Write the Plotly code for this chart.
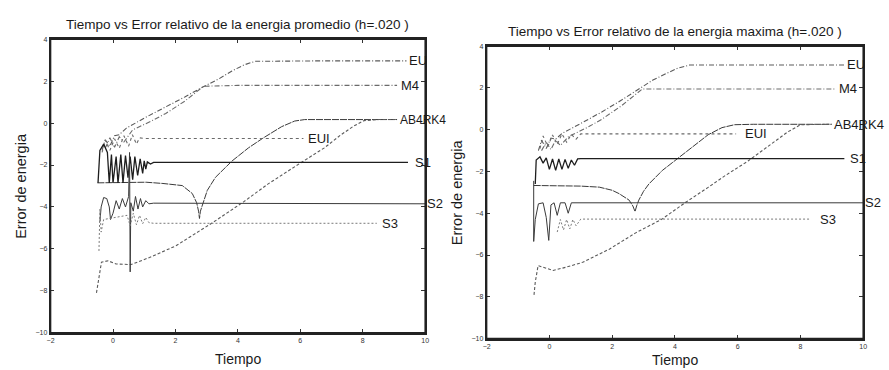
import plotly.graph_objects as go

# ---------------- Panel 1: error relativo de la energia promedio ----------------
prom_eu_t = [-0.35, -0.25, -0.1, 0.05, 0.2, 0.42, 1.0, 1.69, 2.3, 2.86, 3.4, 3.81, 4.2, 4.55, 5.5, 6.5, 7.5, 8.5, 9.4]
prom_eu_e = [-1.3, -0.8, -1.1, -0.6, -0.55, -0.25, 0.24, 0.77, 1.25, 1.71, 2.12, 2.49, 2.78, 2.95, 2.97, 2.97, 2.97, 2.97, 2.97]

prom_m4_t = [-0.25, -0.1, 0.05, 0.2, 0.35, 0.63, 1.2, 1.69, 2.3, 2.9, 4.0, 5.0, 6.0, 7.0, 8.0, 9.1]
prom_m4_e = [-1.2, -0.7, -1.15, -0.65, -0.9, -0.32, 0.08, 0.46, 1.05, 1.76, 1.8, 1.8, 1.8, 1.8, 1.8, 1.8]

prom_ab4_t = [-0.5, 0.0, 0.5, 1.06, 1.6, 2.22, 2.54, 2.68, 2.74, 2.77, 2.8, 2.9, 3.02, 3.28, 3.81, 4.34, 4.81, 5.4, 5.82, 6.14, 7.0, 8.0, 9.1]
prom_ab4_e = [-2.85, -2.85, -2.84, -2.82, -2.88, -2.98, -3.36, -3.8, -4.2, -4.55, -4.2, -3.7, -3.21, -2.59, -1.81, -1.18, -0.71, -0.17, 0.1, 0.17, 0.17, 0.17, 0.17]

prom_rk4_t = [-0.53, -0.45, -0.37, -0.16, 0.1, 0.58, 1.17, 2.01, 2.5, 3.17, 4.18, 4.97, 6.03, 6.77, 7.3, 7.7, 8.04, 8.5, 9.1]
prom_rk4_e = [-8.1, -7.4, -6.64, -6.57, -6.72, -6.75, -6.41, -5.86, -5.4, -4.77, -3.76, -2.9, -1.88, -1.18, -0.56, -0.15, 0.12, 0.17, 0.17]

prom_eui_t = [-0.35, -0.25, -0.1, 0.05, 0.2, 0.35, 0.5, 0.62, 0.75, 0.85, 1.0, 6.1]
prom_eui_e = [-1.4, -0.8, -1.3, -0.75, -1.2, -0.6, -1.1, -0.55, -1.0, -0.7, -0.73, -0.73]

prom_s1_t = [-0.48, -0.42, -0.3, -0.18, -0.12, -0.05, 0.0, 0.1, 0.16, 0.25, 0.32, 0.4, 0.48, 0.55, 0.63, 0.7,
             0.79, 0.87, 0.95, 1.0, 1.05, 1.1, 1.2, 1.3, 9.45]
prom_s1_e = [-2.85, -1.3, -1.0, -1.4, -2.85, -1.5, -2.85, -1.6, -2.85, -1.5, -2.85, -1.55, -2.6, -1.6, -2.7, -1.6,
             -2.5, -1.7, -2.4, -1.8, -2.2, -1.85, -1.95, -1.87, -1.87]

prom_s2_t = [-0.42, -0.38, -0.3, -0.2, -0.12, -0.08, 0.0, 0.1, 0.2, 0.3, 0.4, 0.5, 0.53, 0.55, 0.57, 0.65,
             0.72, 0.8, 0.88, 0.95, 1.05, 1.15, 1.3, 10.0]
prom_s2_e = [-4.7, -4.0, -3.55, -3.6, -4.0, -4.6, -4.3, -3.7, -4.1, -3.6, -4.0, -3.5, -1.4, -7.1, -3.8, -4.2,
             -3.5, -4.1, -3.6, -4.0, -3.7, -3.85, -3.82, -3.85]

prom_s3_t = [-0.45, -0.42, -0.38, -0.3, 0.45, 0.55, 0.65, 0.75, 0.85, 0.95, 1.05, 1.15, 1.3, 8.45]
prom_s3_e = [-6.1, -4.1, -5.2, -4.6, -4.4, -4.9, -4.3, -4.85, -4.4, -4.8, -4.5, -4.75, -4.78, -4.78]

# ---------------- Panel 2: error relativo de la energia maxima ----------------
max_eu_t = [-0.35, -0.25, -0.1, 0.05, 0.2, 0.41, 1.0, 1.67, 2.3, 2.83, 3.3, 3.78, 4.1, 4.47, 5.5, 6.5, 7.5, 8.5, 9.4]
max_eu_e = [-1.0, -0.5, -0.9, -0.4, -0.45, -0.17, 0.3, 0.85, 1.42, 1.95, 2.38, 2.73, 2.95, 3.1, 3.1, 3.1, 3.1, 3.1, 3.1]

max_m4_t = [-0.25, -0.1, 0.05, 0.2, 0.35, 0.62, 1.2, 1.67, 2.3, 2.96, 4.0, 5.0, 6.0, 7.0, 8.0, 9.1]
max_m4_e = [-1.0, -0.6, -0.95, -0.5, -0.75, -0.32, 0.1, 0.5, 1.15, 1.95, 1.95, 1.95, 1.95, 1.95, 1.95, 1.95]

max_ab4_t = [-0.5, 0.0, 0.5, 1.0, 1.59, 2.0, 2.22, 2.54, 2.66, 2.73, 2.78, 2.85, 3.0, 3.17, 3.6, 4.12, 4.6, 5.06, 5.5, 5.9, 6.5, 7.5, 9.0]
max_ab4_e = [-2.67, -2.68, -2.68, -2.7, -2.75, -2.9, -3.06, -3.37, -3.65, -3.92, -3.65, -3.37, -2.95, -2.6, -1.95, -1.34, -0.75, -0.24, 0.1, 0.24, 0.26, 0.26, 0.26]

max_rk4_t = [-0.49, -0.45, -0.36, 0.12, 0.54, 1.06, 1.91, 2.75, 3.59, 4.32, 5.06, 5.6, 6.33, 7.16, 7.6, 8.01, 8.5, 9.0]
max_rk4_e = [-7.91, -7.3, -6.51, -6.74, -6.58, -6.35, -5.72, -4.94, -4.28, -3.5, -2.76, -2.2, -1.5, -0.56, -0.1, 0.24, 0.26, 0.26]

max_eui_t = [-0.3, -0.2, -0.05, 0.1, 0.25, 0.4, 0.55, 0.7, 0.85, 1.0, 5.95]
max_eui_e = [-0.9, -0.3, -0.8, -0.25, -0.7, -0.2, -0.6, -0.22, -0.45, -0.2, -0.2]

max_s1_t = [-0.45, -0.42, -0.3, -0.2, -0.1, 0.0, 0.1, 0.2, 0.3, 0.4, 0.5, 0.6, 0.7, 0.8, 0.9, 1.0, 9.4]
max_s1_e = [-2.6, -1.45, -1.3, -1.6, -1.35, -1.9, -1.4, -1.95, -1.4, -1.9, -1.42, -1.85, -1.45, -1.7, -1.4, -1.38, -1.38]

max_s2_t = [-0.5, -0.5, -0.45, -0.35, -0.2, -0.1, -0.02, 0.05, 0.15, 0.25, 0.35, 0.5, 0.6, 0.7, 10.0]
max_s2_e = [-2.45, -5.35, -4.3, -3.55, -3.5, -4.2, -5.3, -3.6, -3.5, -4.1, -3.5, -3.5, -4.0, -3.5, -3.5]

max_s3_t = [0.25, 0.35, 0.45, 0.55, 0.65, 0.75, 0.85, 1.0, 8.3]
max_s3_e = [-4.9, -4.3, -4.8, -4.3, -4.75, -4.3, -4.6, -4.28, -4.28]

# Curve labels: (text, t, error, font size) per panel
prom_labels = [("EU", 9.42, 2.97, 13), ("M4", 9.17, 1.8, 13), ("AB4RK4", 9.12, 0.17, 12),
               ("EUI", 6.19, -0.73, 13), ("S1", 9.6, -1.87, 13), ("S2", 10.0, -3.85, 13), ("S3", 8.55, -4.78, 13)]
max_labels = [("EU", 9.42, 3.1, 13), ("M4", 9.17, 1.95, 13), ("AB4RK4", 9.02, 0.26, 13),
              ("EUI", 6.18, -0.2, 13), ("S1", 9.52, -1.38, 13), ("S2", 10.0, -3.5, 13), ("S3", 8.55, -4.28, 13)]

x_ticks = [-2, 0, 2, 4, 6, 8, 10]
y_ticks = [-10, -8, -6, -4, -2, 0, 2, 4]

titles = ["Tiempo vs Error relativo de la energia promedio (h=.020 )",
          "Tiempo vs Error relativo de la energia maxima (h=.020 )"]

styles = {
    "eu": dict(color="#5a5a5a", width=1.1, dash="5px,2px,1px,2px"),
    "m4": dict(color="#6a6a6a", width=1.1, dash="5px,2px,1px,2px"),
    "ab4": dict(color="#3a3a3a", width=1.0, dash="7px,1px"),
    "rk4": dict(color="#5a5a5a", width=1.1, dash="3px,2px"),
    "eui": dict(color="#6a6a6a", width=1.1, dash="3px,3px"),
    "s1": dict(color="#1e1e1e", width=1.3, dash="solid"),
    "s2": dict(color="#3a3a3a", width=1.0, dash="solid"),
    "s3": dict(color="#7a7a7a", width=1.0, dash="2px,2px"),
}

panels = [
    ("x", "y", {
        "eu": (prom_eu_t, prom_eu_e), "m4": (prom_m4_t, prom_m4_e), "ab4": (prom_ab4_t, prom_ab4_e),
        "rk4": (prom_rk4_t, prom_rk4_e), "eui": (prom_eui_t, prom_eui_e), "s1": (prom_s1_t, prom_s1_e),
        "s2": (prom_s2_t, prom_s2_e), "s3": (prom_s3_t, prom_s3_e)}, prom_labels),
    ("x2", "y2", {
        "eu": (max_eu_t, max_eu_e), "m4": (max_m4_t, max_m4_e), "ab4": (max_ab4_t, max_ab4_e),
        "rk4": (max_rk4_t, max_rk4_e), "eui": (max_eui_t, max_eui_e), "s1": (max_s1_t, max_s1_e),
        "s2": (max_s2_t, max_s2_e), "s3": (max_s3_t, max_s3_e)}, max_labels),
]

fig = go.Figure()
annotations = []
for xa, ya, series, labels in panels:
    for key, (t, e) in series.items():
        fig.add_trace(go.Scatter(x=t, y=e, mode="lines", line=styles[key],
                                 xaxis=xa, yaxis=ya, showlegend=False, hoverinfo="skip",
                                 cliponaxis=False))
    for text, t, e, size in labels:
        annotations.append(dict(text=text, x=t, y=e, xref=xa, yref=ya, xanchor="left", yanchor="middle",
                                showarrow=False, font=dict(size=size, color="#1a1a1a")))

font_family = "Liberation Sans, Arial, sans-serif"

# Panel frames in pixels: left, right, top, bottom
W, H = 889, 370
frames = [(47, 425, 36, 335), (487, 867, 43, 341)]
xlabel_offset = [27, 22]

layout_axes = {}
shapes = []
for i, (l, r, tp, b) in enumerate(frames):
    sx = "" if i == 0 else "2"
    common = dict(showgrid=False, zeroline=False, showline=True, linecolor="#222", linewidth=1.6,
                  mirror="allticks", ticks="inside", ticklen=4, tickwidth=1, tickcolor="#333",
                  tickfont=dict(size=7, color="#333", family=font_family))
    layout_axes["xaxis" + sx] = dict(common, domain=[l / W, r / W], range=[-2, 10], tickvals=x_ticks,
                                    anchor="y" + sx)
    layout_axes["yaxis" + sx] = dict(common, domain=[1 - b / H, 1 - tp / H], range=[-10, 4], tickvals=y_ticks,
                                    anchor="x" + sx)
    # box around the panel
    shapes.append(dict(type="rect", xref="x" + sx + " domain", yref="y" + sx + " domain",
                       x0=0, x1=1, y0=0, y1=1, line=dict(color="#222", width=1.5), layer="above"))
    cx = (l + r) / 2
    annotations.append(dict(text=titles[i], x=cx / W, y=1 - (tp - 15) / H, xref="paper", yref="paper",
                            xanchor="center", yanchor="middle", showarrow=False,
                            font=dict(size=13.5, color="#1a1a1a")))
    annotations.append(dict(text="Tiempo", x=cx / W, y=1 - (b + xlabel_offset[i]) / H, xref="paper",
                            yref="paper", xanchor="center", yanchor="middle", showarrow=False,
                            font=dict(size=14, color="#1a1a1a")))
    annotations.append(dict(text="Error de energia", x=(l - 30) / W, y=1 - ((tp + b) / 2) / H,
                            xref="paper", yref="paper", xanchor="center", yanchor="middle",
                            showarrow=False, textangle=-90, font=dict(size=14.5, color="#1a1a1a")))

fig.update_layout(
    width=W, height=H, margin=dict(l=0, r=0, t=0, b=0),
    paper_bgcolor="white", plot_bgcolor="white",
    font=dict(family=font_family, color="#1a1a1a"),
    annotations=annotations, shapes=shapes,
    **layout_axes,
)

fig.write_html("out.html")
